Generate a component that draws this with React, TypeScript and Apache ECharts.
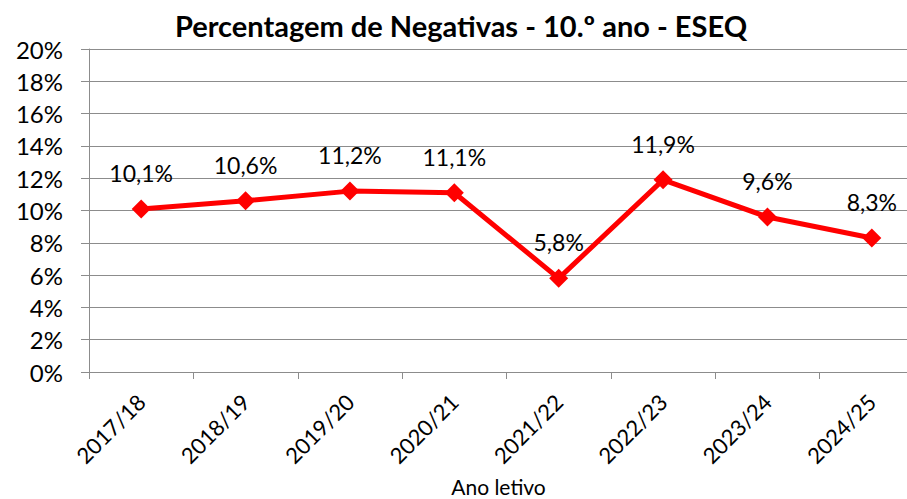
import React, { useEffect, useRef } from "react";
import * as echarts from "echarts";

const categories = ["2017/18", "2018/19", "2019/20", "2020/21", "2021/22", "2022/23", "2023/24", "2024/25"];
const values = [10.1, 10.6, 11.2, 11.1, 5.8, 11.9, 9.6, 8.3];
const titleText = "Percentagem de Negativas - 10.º ano - ESEQ";
const xAxisName = "Ano letivo";

const FONT = "Lato";

export default function App() {
  const ref = useRef<HTMLDivElement>(null);
  useEffect(() => {
    if (!ref.current) return;
    const chart = echarts.init(ref.current, null, { renderer: "svg" });
    chart.setOption({
      animation: false,
      backgroundColor: "#ffffff",
      title: {
        text: titleText,
        left: 456,
        textAlign: "center",
        top: 6,
        textStyle: { fontFamily: FONT, fontWeight: "bold", fontSize: 29, color: "#000" },
      },
      grid: { left: 89, top: 49, bottom: 127, right: -17, containLabel: false, outerBoundsMode: "none" },
      xAxis: {
        type: "category",
        data: categories,
        boundaryGap: true,
        name: xAxisName,
        nameLocation: "middle",
        nameGap: 104,
        nameTextStyle: { fontFamily: FONT, fontSize: 21, color: "#000", padding: [0, 16, 0, 0] },
        axisLine: { lineStyle: { color: "#8c8c8c", width: 1 } },
        axisTick: { show: true, length: 7, alignWithLabel: false, lineStyle: { color: "#8c8c8c" } },
        axisLabel: { rotate: 45, margin: 26, fontFamily: FONT, fontSize: 22, color: "#000", interval: 0 },
        splitLine: { show: false },
      },
      yAxis: {
        type: "value",
        min: 0,
        max: 20,
        interval: 2,
        axisLine: { show: true, lineStyle: { color: "#8c8c8c", width: 1 } },
        axisTick: { show: true, length: 8, lineStyle: { color: "#8c8c8c" } },
        axisLabel: { margin: 26, fontFamily: FONT, fontSize: 24, color: "#000", formatter: (v: number) => `${v}%` },
        splitLine: { show: true, lineStyle: { color: "#8c8c8c", width: 1 } },
      },
      series: [
        {
          type: "line",
          data: values,
          symbol: "diamond",
          symbolSize: 19,
          lineStyle: { color: "#ff0000", width: 5 },
          itemStyle: { color: "#ff0000" },
          label: {
            show: true,
            position: "top",
            distance: 15,
            fontFamily: FONT,
            fontSize: 23,
            color: "#000",
            formatter: (p: any) => `${String(p.value).replace(".", ",")}%`,
          },
        },
      ],
    });
    return () => chart.dispose();
  }, []);
  return <div ref={ref} style={{ position: "fixed", left: 0, top: 0, width: 907, height: 499 }} />;
}
